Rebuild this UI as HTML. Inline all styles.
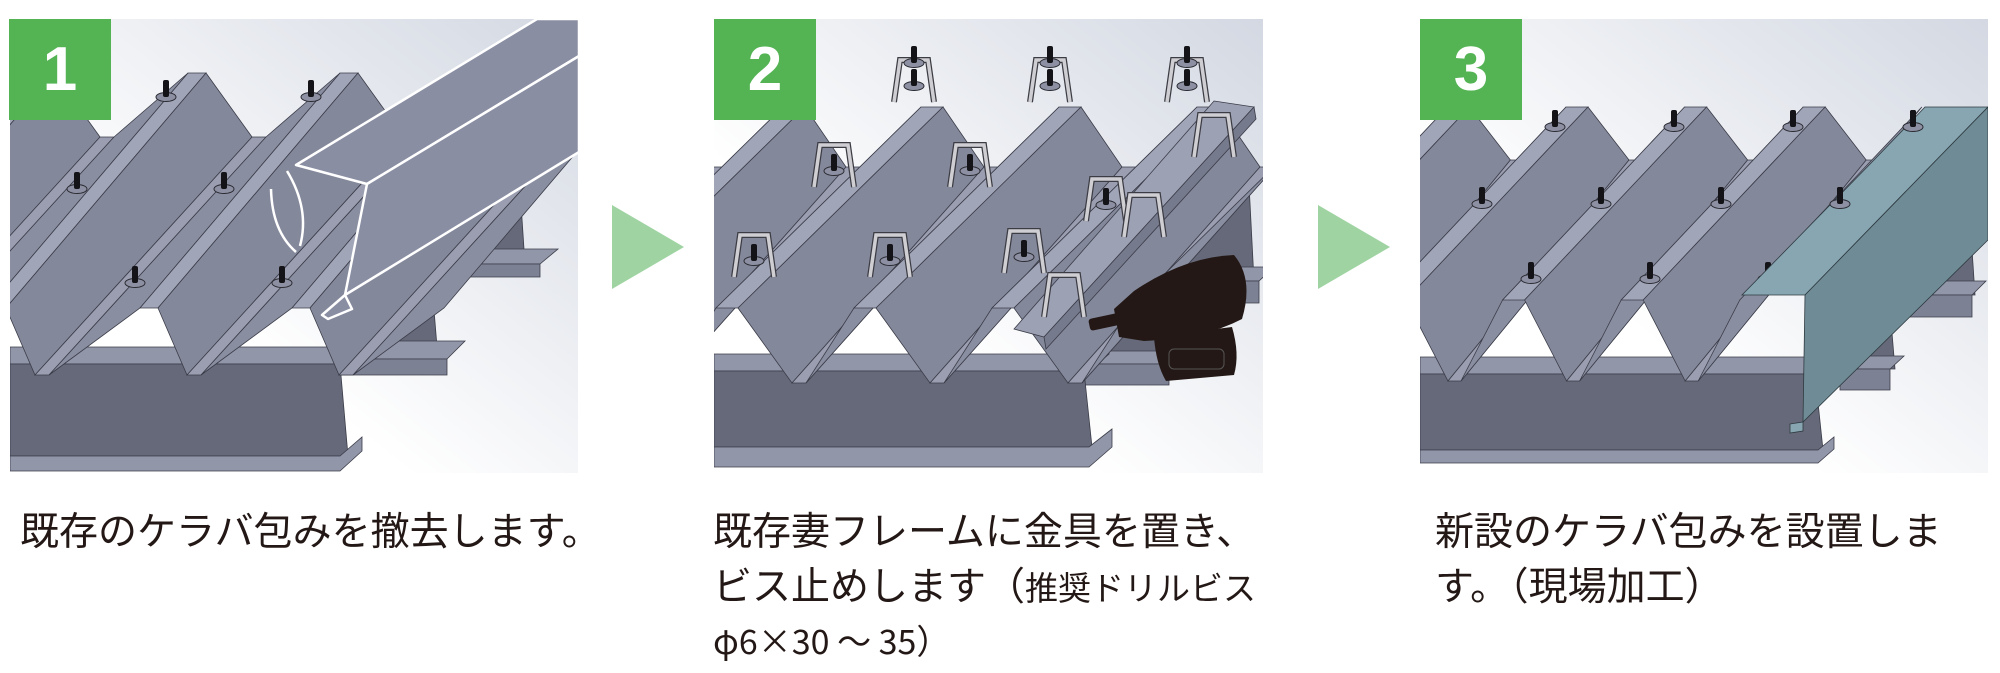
<!DOCTYPE html>
<html><head><meta charset="utf-8"><style>
body{margin:0;width:2000px;height:673px;background:#fff;position:relative;overflow:hidden;font-family:"Liberation Sans","Noto Sans CJK JP",sans-serif;color:#231815}
svg.p{position:absolute;top:19px;height:454px}
.badge{position:absolute;top:19px;width:102px;height:101px;background:#54b454;color:#fff;font:bold 62px "Liberation Sans",sans-serif;text-align:center;line-height:101px}
.arrow{position:absolute;width:0;height:0;border-top:42px solid transparent;border-bottom:42px solid transparent;border-left:72px solid #9fd4a2;top:205px}
.t{position:absolute;top:505px;font-size:39px;line-height:55px;white-space:nowrap}
.s{font-size:33px}
.t3{font-family:"Noto Sans CJK JP","Liberation Sans",sans-serif;font-size:34px;line-height:44px;display:block;margin-top:2px}
</style></head><body>
<svg width="0" height="0" style="position:absolute">
<defs>
<linearGradient id="bg" x1="0" y1="1" x2="1" y2="0"><stop offset="0.35" stop-color="#ffffff"/><stop offset="1" stop-color="#d3d8e2"/></linearGradient>
<g id="bolt"><ellipse cx="0" cy="0" rx="10" ry="4.5" fill="#8c90a2" stroke="#2b2b33" stroke-width="1"/><rect x="-3" y="-17" width="6" height="17" rx="2" fill="#141418"/></g>
<g id="brk"><path d="M-20 28 L-14 -14 L14 -14 L20 28" fill="none" stroke="#3c3c44" stroke-width="6"/><path d="M-20 28 L-14 -14 L14 -14 L20 28" fill="none" stroke="#cfcfd3" stroke-width="3.5"/></g>
<g id="c1" stroke="#3a3c48" stroke-width="0.8">
<polygon points="178,54 196,54 -4,289 -22,289" fill="#a1a5b8"/>
<polygon points="196,54 242,118 25,356 -4,289" fill="#84889b"/>
<polygon points="242,118 256,118 39,356 25,356" fill="#9a9eb0"/>
<polygon points="256,118 330,54 130,289 39,356" fill="#8a8ea1"/>
</g>
<g id="c2" stroke="#3a3c48" stroke-width="0.8">
<polygon points="207,88 229,88 24,289 2,289" fill="#a1a5b8"/>
<polygon points="229,88 270,148 78,364 24,289" fill="#84889b"/>
<polygon points="270,148 285,148 92,364 78,364" fill="#9a9eb0"/>
<polygon points="285,148 345,88 140,289 92,364" fill="#8a8ea1"/>
</g>
<g id="c3" stroke="#3a3c48" stroke-width="0.8">
<polygon points="146,88 168,88 -14,281 -36,281" fill="#a1a5b8"/>
<polygon points="168,88 209,141 28,362 -14,281" fill="#84889b"/>
<polygon points="209,141 222,141 41,362 28,362" fill="#9a9eb0"/>
<polygon points="222,141 264.6,88 82.6,281 41,362" fill="#8a8ea1"/>
</g>
</defs></svg>

<!-- Panel 1 -->
<svg class="p" style="left:10px" width="568" viewBox="0 0 568 454">
<rect width="568" height="454" fill="url(#bg)"/>
<g stroke="#3a3c48" stroke-width="0.8">
<polygon points="425,170 510,170 515,245 420,245" fill="#666979"/>
<polygon points="410,245 530,245 548,230 430,230" fill="#9296a9"/>
<polygon points="410,245 530,245 530,258 410,258" fill="#7d8194"/>
<polygon points="340,242 420,242 428,340 335,340" fill="#666979"/>
<polygon points="325,340 437,340 455,322 345,322" fill="#9296a9"/>
<polygon points="325,340 437,340 437,356 325,356" fill="#7d8194"/>
<polygon points="0,328 365,328 345,345 0,345" fill="#9296a9"/>
<polygon points="0,345 330,345 338,437 0,437" fill="#666979"/>
<polygon points="0,437 330,437 352,418 352,432 330,452 0,452" fill="#9296a9"/>
</g>
<use href="#c1" transform="translate(-304,0)"/><use href="#c1" transform="translate(-152,0)"/>
<use href="#c1"/><use href="#c1" transform="translate(152,0)"/><use href="#c1" transform="translate(304,0)"/>
<use href="#bolt" x="156" y="78"/><use href="#bolt" x="301" y="78"/><use href="#bolt" x="67" y="170"/><use href="#bolt" x="214" y="170"/><use href="#bolt" x="125" y="264"/><use href="#bolt" x="272" y="264"/>
<g stroke="#fff" stroke-width="2.5" stroke-linejoin="round">
<polygon points="286,146 527,0 569,0 569,37 357,165" fill="#8a8ea3"/>
<polygon points="357,165 569,37 569,133 335,276" fill="#8a8ea3"/>
<polygon points="312,296 335,276 342,290 318,300" fill="#8a8ea3"/>
</g>
<path d="M277 152 Q300 190 290 227" fill="none" stroke="#fff" stroke-width="2.5"/>
<path d="M261 170 Q262 212 286 233" fill="none" stroke="#fff" stroke-width="2.5"/>
</svg>
<div class="badge" style="left:9px">1</div>
<div class="arrow" style="left:612px"></div>

<!-- Panel 2 -->
<svg class="p" style="left:714px" width="549" viewBox="0 0 549 454">
<rect width="549" height="454" fill="url(#bg)"/>
<g stroke="#3a3c48" stroke-width="0.8">
<polygon points="455,165 535,165 540,262 450,262" fill="#666979"/>
<polygon points="440,262 545,262 560,248 455,248" fill="#9296a9"/>
<polygon points="440,262 545,262 545,284 440,284" fill="#7d8194"/>
<polygon points="370,246 445,246 450,345 366,345" fill="#666979"/>
<polygon points="355,345 455,345 470,332 370,332" fill="#9296a9"/>
<polygon points="355,345 455,345 455,366 355,366" fill="#7d8194"/>
<polygon points="0,335 395,335 375,352 0,352" fill="#9296a9"/>
<polygon points="0,352 370,352 378,428 0,428" fill="#666979"/>
<polygon points="0,428 375,428 398,410 398,428 375,448 0,448" fill="#9296a9"/>
</g>
<use href="#c2" transform="translate(-276,0)"/><use href="#c2" transform="translate(-138,0)"/>
<use href="#c2"/><use href="#c2" transform="translate(138,0)"/><use href="#c2" transform="translate(276,0)"/>
<polygon points="500,82 540,88 330,318 300,310" fill="#9da1b4" stroke="#3a3c48" stroke-width="0.8"/>
<polygon points="540,88 542,100 332,330 330,318" fill="#767a8d" stroke="#3a3c48" stroke-width="0.8"/>
<g>
<use href="#brk" x="200" y="55"/><use href="#brk" x="336" y="55"/><use href="#brk" x="473" y="55"/>
<use href="#brk" x="120" y="140"/><use href="#brk" x="256" y="140"/><use href="#brk" x="392" y="174"/>
<use href="#brk" x="40" y="230"/><use href="#brk" x="176" y="230"/><use href="#brk" x="310" y="226"/>
<use href="#bolt" x="200" y="67"/><use href="#bolt" x="336" y="67"/><use href="#bolt" x="473" y="67"/>
<use href="#bolt" x="120" y="152"/><use href="#bolt" x="256" y="152"/><use href="#bolt" x="392" y="186"/>
<use href="#bolt" x="40" y="242"/><use href="#bolt" x="176" y="242"/><use href="#bolt" x="310" y="238"/>
<use href="#bolt" x="200" y="44"/><use href="#bolt" x="336" y="44"/><use href="#bolt" x="473" y="44"/>
<use href="#brk" x="500" y="110"/><use href="#brk" x="430" y="190"/><use href="#brk" x="350" y="270"/>
</g>
<g fill="#231815">
<rect x="375" y="297" width="30" height="12" rx="3" transform="rotate(-12 390 303)"/>
<path d="M400 290 L420 272 Q470 238 520 236 Q540 260 528 300 Q490 320 430 322 L405 318 Z"/>
<path d="M440 318 L518 308 Q526 335 520 356 L452 362 Q442 345 440 318 Z"/>
</g>
<rect x="455" y="330" width="55" height="20" rx="5" fill="none" stroke="#555" stroke-width="1"/>
</svg>
<div class="badge" style="left:714px">2</div>
<div class="arrow" style="left:1318px"></div>

<!-- Panel 3 -->
<svg class="p" style="left:1420px" width="568" viewBox="0 0 568 454">
<rect width="568" height="454" fill="url(#bg)"/>
<g stroke="#3a3c48" stroke-width="0.8">
<polygon points="505,200 550,200 555,276 500,276" fill="#666979"/>
<polygon points="490,276 552,276 566,262 505,262" fill="#9296a9"/>
<polygon points="490,276 552,276 552,298 490,298" fill="#7d8194"/>
<polygon points="435,290 470,290 475,350 430,350" fill="#666979"/>
<polygon points="420,350 470,350 484,337 434,337" fill="#9296a9"/>
<polygon points="420,350 470,350 470,371 420,371" fill="#7d8194"/>
<polygon points="0,338 415,338 398,355 0,355" fill="#9296a9"/>
<polygon points="0,355 395,355 403,431 0,431" fill="#666979"/>
<polygon points="0,431 398,431 414,418 414,430 398,444 0,444" fill="#9296a9"/>
</g>
<use href="#c3" transform="translate(-237.2,0)"/><use href="#c3" transform="translate(-118.6,0)"/>
<use href="#c3"/><use href="#c3" transform="translate(118.6,0)"/><use href="#c3" transform="translate(237.2,0)"/>
<use href="#bolt" x="135" y="108"/><use href="#bolt" x="254" y="108"/><use href="#bolt" x="373" y="108"/><use href="#bolt" x="493" y="108"/>
<use href="#bolt" x="62" y="185"/><use href="#bolt" x="181" y="185"/><use href="#bolt" x="301" y="185"/><use href="#bolt" x="420" y="185"/>
<use href="#bolt" x="111" y="260"/><use href="#bolt" x="230" y="260"/><use href="#bolt" x="348" y="260"/>
<g stroke="#2e3a40" stroke-width="0.8">
<polygon points="505,88 568,88 385,276 322,276 455,140" fill="#87a6b1"/>
<polygon points="385,276 568,88 568,221 383,403" fill="#6f8b95"/>
<polygon points="370,405 383,403 383,412 370,414" fill="#87a6b1"/>
</g>
<use href="#bolt" x="493" y="108"/><use href="#bolt" x="420" y="185"/>
</svg>
<div class="badge" style="left:1420px">3</div>

<div class="t" style="left:20px">既存のケラバ包みを撤去します。</div>
<div class="t" style="left:713px">既存妻フレームに金具を置き、<br>ビス止めします（<span class="s">推奨ドリルビス</span><span class="t3">φ6×30 ～ 35）</span></div>
<div class="t" style="left:1435px">新設のケラバ包みを設置しま<br>す。（現場加工）</div>
</body></html>
